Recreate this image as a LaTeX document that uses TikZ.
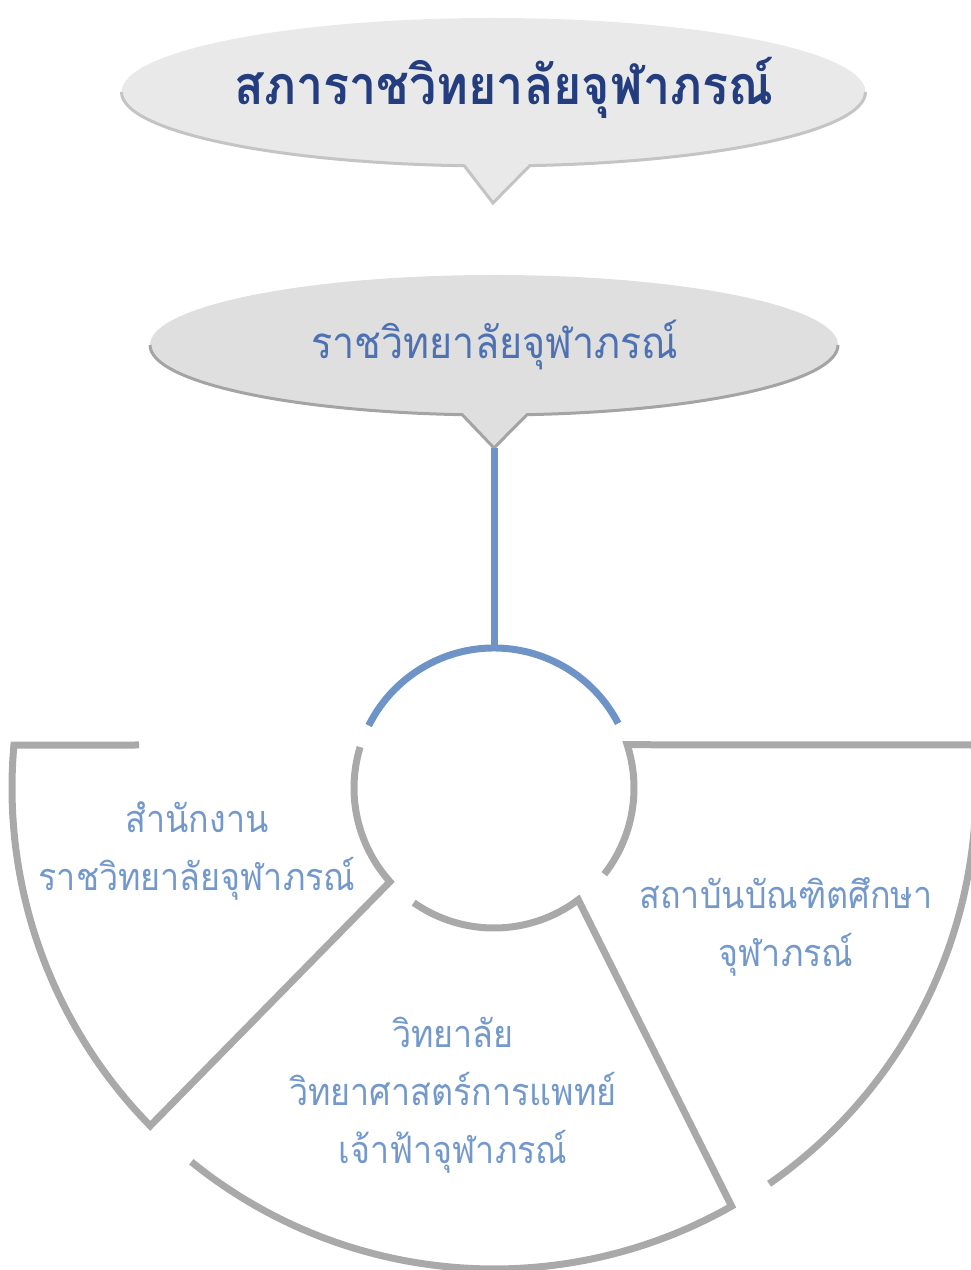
\documentclass[tikz,border=0pt]{standalone}
\usepackage{fontspec}
\usetikzlibrary{calc}
\newfontfamily\thai[Script=Thai,FakeStretch=0.9]{Loma}
\definecolor{titleblue}{HTML}{233D7E}
\definecolor{midblue}{HTML}{4D71B3}
\definecolor{segblue}{HTML}{7398CB}
\definecolor{linkblue}{HTML}{6E93C7}
\definecolor{seggray}{HTML}{A9A9A9}
\definecolor{cfillA}{HTML}{E9E9E9}
\definecolor{cfillB}{HTML}{DFDFDF}
\definecolor{clineA}{HTML}{C4C4C4}
\definecolor{clineB}{HTML}{A4A4A4}
\begin{document}
\begin{tikzpicture}[x=1bp,y=1bp,
  segline/.style={draw=seggray,line width=7bp,line join=miter},
  bluearc/.style={draw=linkblue,line width=7bp},
  segtext/.style={text=segblue,align=center,font={\thai\fontsize{38}{58}\selectfont},inner sep=0pt},
]
\useasboundingbox (0,0) rectangle (971,1270);
\begin{scope}
\clip (0,0) rectangle (971,1270);
% callout 1
\coordinate (E1) at (493.5,1178);
\coordinate (tip1) at (493,1067);
\fill[cfillA] (E1) ellipse[x radius=372, y radius=74];
\fill[cfillA] ($(E1)+(265.5:372 and 74)$) -- (tip1) -- ($(E1)+(275.6:372 and 74)$) -- cycle;
\draw[clineA,line width=3bp] ($(E1)+(180:372 and 74)$) arc[start angle=180,end angle=265.5,x radius=372,y radius=74] -- (tip1) -- ($(E1)+(275.6:372 and 74)$) arc[start angle=275.6,end angle=360,x radius=372,y radius=74];
\node[text=titleblue,font={\thai\bfseries\fontsize{54}{60}\selectfont},inner sep=0pt] (title) at (504,1182) {สภาราชวิทยาลัยจุฬาภรณ์};
% callout 2
\coordinate (E2) at (494,925);
\coordinate (tip2) at (494,822);
\fill[cfillB] (E2) ellipse[x radius=344, y radius=70];
\fill[cfillB] ($(E2)+(264.7:344 and 70)$) -- (tip2) -- ($(E2)+(275.5:344 and 70)$) -- cycle;
\draw[clineB,line width=3bp] ($(E2)+(180:344 and 70)$) arc[start angle=180,end angle=264.7,x radius=344,y radius=70] -- (tip2) -- ($(E2)+(275.5:344 and 70)$) arc[start angle=275.5,end angle=360,x radius=344,y radius=70];
\node[text=midblue,font={\thai\fontsize{44}{48}\selectfont},inner sep=0pt] (college) at (495,925) {ราชวิทยาลัยจุฬาภรณ์};
% hub
\coordinate (C) at (494,482);
\coordinate (hubtop) at ($(C)+(90:140)$);
\draw[bluearc] ($(C)+(27.5:140)$) arc[start angle=27.5,end angle=153.5,radius=140];
\draw[bluearc] (tip2) -- (hubtop);
% left segment
\draw[segline] (139,525) -- ($(C)+(174.9:482)$) arc[start angle=174.9,end angle=224.5,radius=482] -- ($(C)+(222:140)$) arc[start angle=222,end angle=163,radius=140];
% bottom segment
\draw[segline] ($(C)+(235:140)$) arc[start angle=235,end angle=307,radius=140] -- ($(C)+(299.6:481)$) arc[start angle=299.6,end angle=231,radius=481];
% right segment
\draw[segline] ($(C)+(-38:140)$) arc[start angle=-38,end angle=18,radius=140] -- ($(C)+(5.12:482)$) arc[start angle=5.12,end angle=-55.2,radius=482];
\end{scope}
% texts
\node[segtext] (office) at (197,419) {สำนักงาน\\ราชวิทยาลัยจุฬาภรณ์};
\node[segtext] (grad) at (786,343) {สถาบันบัณฑิตศึกษา\\จุฬาภรณ์};
\node[segtext] (medsci) at (453,175) {วิทยาลัย\\วิทยาศาสตร์การแพทย์\\เจ้าฟ้าจุฬาภรณ์};
\end{tikzpicture}
\end{document}
